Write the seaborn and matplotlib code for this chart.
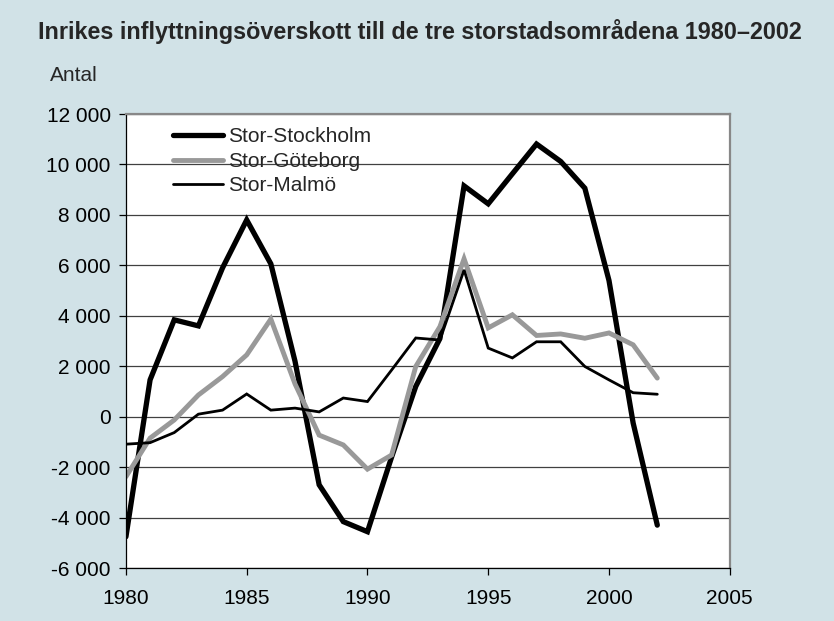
import pandas as pd
import matplotlib.pyplot as plt
import matplotlib.ticker as mticker
import seaborn as sns

# Data
years = list(range(1980, 2003))
stockholm = [-4760, 1460, 3840, 3600, 5900, 7800, 6060, 2200, -2700, -4160, -4560,
             -1600, 1200, 3100, 9150, 8440, 9630, 10810, 10120, 9060, 5400, -250, -4300]
goteborg = [-2380, -850, -130, 860, 1590, 2450, 3870, 1300, -730, -1120, -2080,
            -1520, 1990, 3570, 6260, 3520, 4040, 3220, 3280, 3110, 3320, 2850, 1530]
malmo = [-1090, -1030, -630, 100, 260, 900, 260, 340, 190, 740, 600,
         1850, 3120, 3040, 5820, 2720, 2330, 2970, 2970, 1990, 1460, 950, 890]
series_names = ["Stor-Stockholm", "Stor-Göteborg", "Stor-Malmö"]

df = pd.DataFrame({
    "År": years * 3,
    "Antal": stockholm + goteborg + malmo,
    "Område": [n for n in series_names for _ in years],
})

sns.set_style("white")
plt.rcParams["font.family"] = ["Liberation Sans", "DejaVu Sans"]

bg = "#D1E2E7"
fig = plt.figure(figsize=(8.34, 6.21), dpi=100, facecolor=bg)
ax = fig.add_axes([0.151, 0.0853, 0.724, 0.7311])
ax.set_facecolor("white")

farger = {"Stor-Stockholm": "black", "Stor-Göteborg": "#999999", "Stor-Malmö": "black"}
bredd = {"Stor-Stockholm": 3.8, "Stor-Göteborg": 3.5, "Stor-Malmö": 2.0}
sns.lineplot(data=df, x="År", y="Antal", hue="Område", size="Område",
             palette=farger, sizes=bredd, hue_order=series_names, size_order=series_names,
             ax=ax, legend=False)
for line in ax.lines:
    line.set_solid_capstyle("round")
    line.set_solid_joinstyle("miter")

ax.set_xlim(1980, 2005)
ax.set_ylim(-6000, 12000)
ax.set_xticks(range(1980, 2006, 5))
ax.set_yticks(range(-6000, 12001, 2000))
ax.yaxis.set_major_formatter(mticker.FuncFormatter(lambda v, p: f"{int(v):,}".replace(",", " ")))
ax.yaxis.grid(True, color="#404040", linewidth=0.9)
ax.set_axisbelow(True)
ax.set_xlabel("")
ax.set_ylabel("")
ax.tick_params(axis="both", direction="out", length=5, width=0.9, colors="black",
               labelsize=15, bottom=True, left=True)
ax.tick_params(axis="x", pad=10)
ax.tick_params(axis="y", pad=6)

for side in ["left", "bottom"]:
    ax.spines[side].set_color("black")
    ax.spines[side].set_linewidth(0.9)
for side in ["right", "top"]:
    ax.spines[side].set_color("#888888")
    ax.spines[side].set_linewidth(1.6)

handles = [plt.Line2D([], [], color=farger[n], linewidth=bredd[n], solid_capstyle="round")
           for n in series_names]
ax.legend(handles, series_names, loc="upper left", bbox_to_anchor=(0.078, 0.971),
          frameon=False, fontsize=15, handlelength=2.4, handletextpad=0.25,
          labelspacing=0.27, borderaxespad=0, borderpad=0)

fig.text(0.045, 0.949, "Inrikes inflyttningsöverskott till de tre storstadsområdena 1980–2002",
         fontsize=16.8, fontweight="bold", ha="left", va="center")
fig.text(0.06, 0.878, "Antal", fontsize=15, ha="left", va="center")

plt.savefig("out.png", dpi=100, facecolor=bg)
